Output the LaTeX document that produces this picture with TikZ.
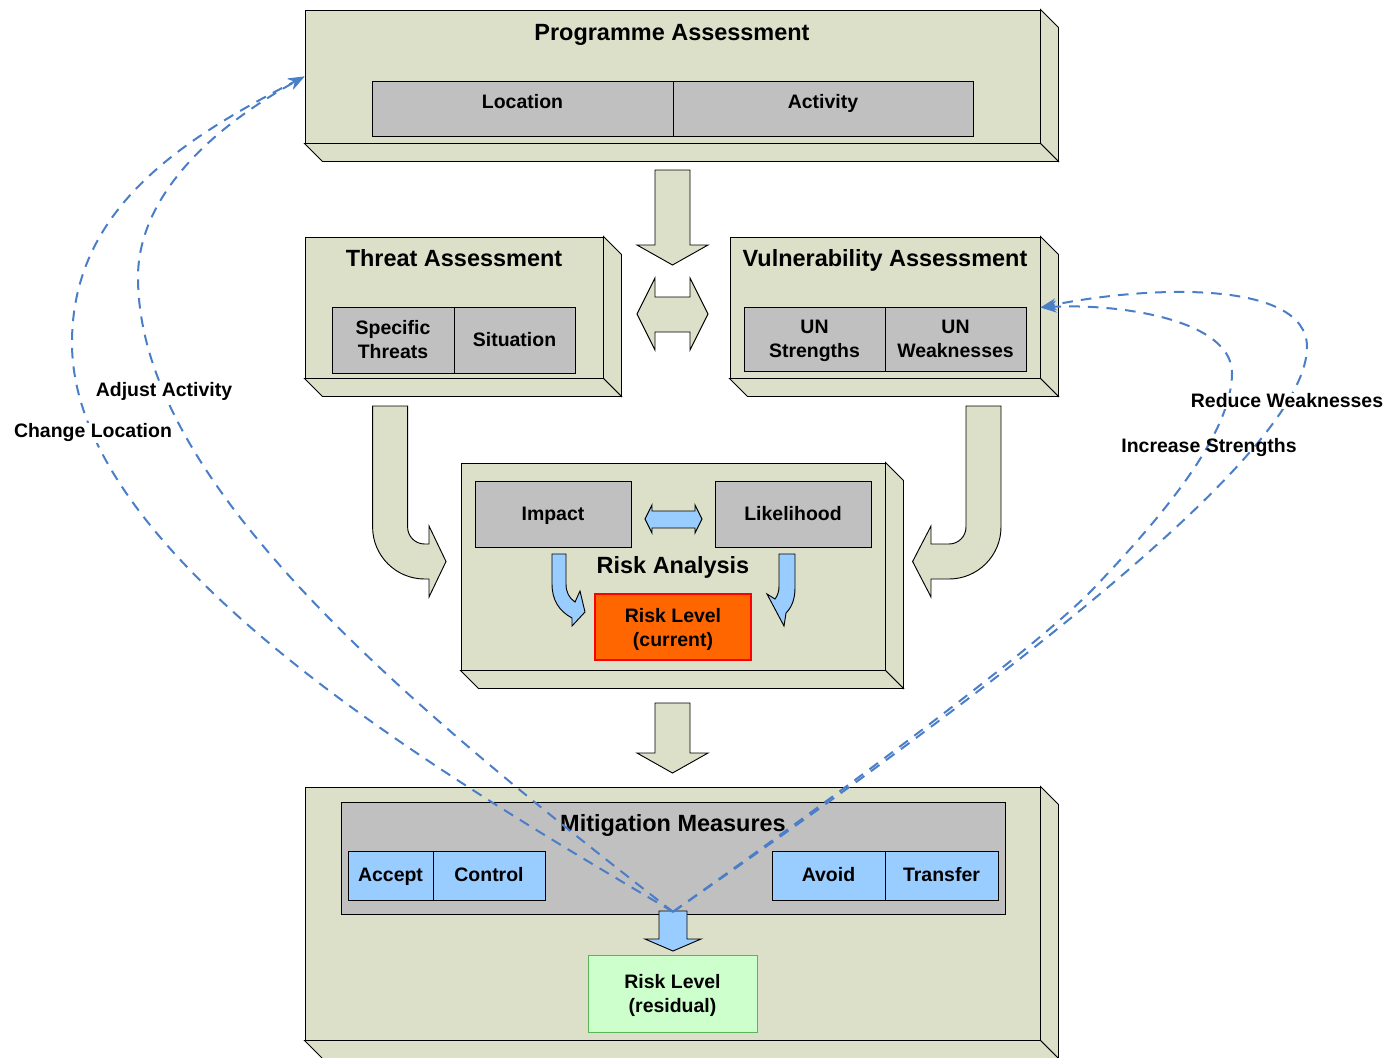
\documentclass[tikz,border=0pt]{standalone}
\usepackage{fontspec}
\setmainfont{Liberation Sans}
\usetikzlibrary{fit,arrows.meta}

\definecolor{khaki}{RGB}{221,224,201}
\definecolor{cellgray}{RGB}{192,192,192}
\definecolor{skyblue}{RGB}{153,204,255}
\definecolor{riskorange}{RGB}{255,102,0}
\definecolor{mint}{RGB}{204,255,204}
\definecolor{mintedge}{RGB}{90,180,90}
\definecolor{dashblue}{RGB}{74,126,199}

% side and bottom faces of a raised box
\newcommand{\slabfaces}[1]{%
  \draw[slabside] (#1.north east) -- ++(13.5pt,-13.5pt)
    -- ([shift={(13.5pt,-13.5pt)}]#1.south east) -- (#1.south east) -- cycle;
  \draw[slabside] (#1.south west) -- (#1.south east) -- ++(13.5pt,-13.5pt)
    -- ([shift={(13.5pt,-13.5pt)}]#1.south west) -- cycle;
}

\begin{document}
\begin{tikzpicture}[
            x=0.75pt, y=-0.75pt,
            >={Stealth[length=12pt,width=9pt]},
            slab/.style={draw, fill=khaki, line width=0.7pt, inner sep=0pt},
            slabside/.style={draw, fill=khaki, line width=0.7pt},
            heading/.style={font=\fontsize{17.6}{21}\selectfont\bfseries},
            cell/.style={draw, fill=cellgray, line width=0.7pt, inner sep=0pt},
            celltext/.style={align=center, inner sep=0pt, font=\fontsize{14.6}{18}\selectfont\bfseries},
            twolines/.style={celltext, yshift=-1.5pt},
            oneline/.style={celltext, text height=10.5pt, text depth=1.5pt},
            measure/.style={cell, fill=skyblue},
            bigarrow/.style={draw, fill=khaki, line width=0.7pt},
            bluearrow/.style={draw, fill=skyblue, line width=0.7pt},
            feedback/.style={draw=dashblue, line width=1.5pt, dash pattern=on 8pt off 6pt, ->},
            tag/.style={font=\fontsize{14.6}{18}\selectfont\bfseries, fill=white, inner sep=1pt}
        ]
        \useasboundingbox (0,0) rectangle (1388,1057);

        % Boxes
        \node[slab, fit={(305,10)(1040,143)}] (prog) {};
        \slabfaces{prog}
        \node[slab, fit={(305,237)(603,378)}] (threat) {};
        \slabfaces{threat}
        \node[slab, fit={(730,237)(1040,378)}] (vuln) {};
        \slabfaces{vuln}
        \node[slab, fit={(461,463)(885,670)}] (risk) {};
        \slabfaces{risk}
        \node[slab, fit={(305,787)(1040,1040)}] (mitig) {};
        \slabfaces{mitig}

        % Headings
        \node[heading] (progtitle) at (672,34.5) {Programme Assessment};
        \node[heading] (threattitle) at (454,258) {Threat Assessment};
        \node[heading] (vulntitle) at (885,260) {Vulnerability Assessment};

        % Cells
        \node[cell, fit={(372,81)(673,136)}, label={[oneline, yshift=4.2pt]center:Location}] (loc) {};
        \node[cell, fit={(673,81)(973,136)}, label={[oneline, yshift=4.2pt]center:Activity}] (act) {};
        \node[cell, fit={(332,307)(454,373)}, label={[celltext]center:Specific\\Threats}] (spec) {};
        \node[cell, fit={(454,307)(575,373)}, label={[oneline]center:Situation}] (sit) {};
        \node[cell, fit={(744,307)(885,371)}, label={[twolines]center:UN\\Strengths}] (str) {};
        \node[cell, fit={(885,307)(1026,371)}, label={[celltext]center:UN\\Weaknesses}] (weak) {};
        \node[cell, fit={(475,481)(631,547)}, label={[oneline]center:Impact}] (imp) {};
        \node[cell, fit={(715,481)(871,547)}, label={[oneline]center:Likelihood}] (like) {};
        \node[heading] (risktitle) at (673,567) {Risk Analysis};
        \node[cell, fill=riskorange, draw=red, line width=1.3pt, fit={(595,594)(751,660)},
            label={[twolines]center:Risk Level\\(current)}] (cur) {};

        \node[cell, fit={(341,802)(1005,914)}] (mm) {};
        \node[heading] (mmtitle) at (673,825) {Mitigation Measures};
        \node[measure, fit={(348,851)(433,900)}, label={[oneline]center:Accept}] (acc) {};
        \node[measure, fit={(433,851)(545,900)}, label={[oneline]center:Control}] (ctrl) {};
        \node[measure, fit={(772,851)(885,900)}, label={[oneline]center:Avoid}] (avoid) {};
        \node[measure, fit={(885,851)(998,900)}, label={[oneline]center:Transfer}] (trans) {};
        \node[cell, fill=mint, draw=mintedge, fit={(588,955)(757,1032)},
            label={[twolines]center:Risk Level\\(residual)}] (res) {};

        % Block arrows
        \foreach \top/\neck in {170/245, 703/753}
            \draw[bigarrow] (655,\top) -- (690,\top) -- (690,\neck) -- (708,\neck)
                -- (672.5,\neck+20) -- (637,\neck) -- (655,\neck) -- cycle;
        \draw[bigarrow] (637,314) -- (655,278) -- (655,297) -- (690,297) -- (690,278) -- (708,314)
            -- (690,350) -- (690,332) -- (655,332) -- (655,350) -- cycle;
        \draw[bigarrow] (372.6,406) -- (407.6,406) -- (407.6,527)
            .. controls (407.6,536.4) and (415.2,544) .. (424.6,544) -- (429,544) -- (429,526)
            -- (446,561.5) -- (429,597) -- (429,579) -- (424.6,579)
            .. controls (395.9,579) and (372.6,555.7) .. (372.6,527) -- cycle;
        \draw[bigarrow] (1001,406) -- (966,406) -- (966,527)
            .. controls (966,536.4) and (958.4,544) .. (949,544) -- (931,544) -- (931,526)
            -- (912.6,561.5) -- (931,597) -- (931,579) -- (949,579)
            .. controls (977.7,579) and (1001,555.7) .. (1001,527) -- cycle;

        \draw[bluearrow] (645,519) -- (652,505) -- (652,511) -- (695,511) -- (695,505) -- (702,519)
            -- (695,533) -- (695,528) -- (652,528) -- (652,533) -- cycle;
        \draw[bluearrow] (552,554) -- (566,554) -- (566,584)
            .. controls (566,592) and (569,598) .. (575,602) -- (580,591) -- (585,612) -- (572,626)
            -- (572,618) .. controls (559,611) and (552,600) .. (552,584) -- cycle;
        \draw[bluearrow] (795,554) -- (779,554) -- (779,586)
            .. controls (779,591) and (778,595) .. (775,599) -- (767,594) -- (784,626)
            -- (786,613) .. controls (791,608) and (795,600) .. (795,588) -- cycle;
        \draw[bluearrow] (659,911) -- (687,911) -- (687,939) -- (701,939) -- (673,951)
            -- (645,939) -- (659,939) -- cycle;

        % Feedback loops
        \coordinate (fb) at ([yshift=2pt]mm.south);
        \draw[feedback] (fb) .. controls (450,780) and (72,560) .. (72,343)
            .. controls (72,210) and (180,140) .. (prog.west);
        \draw[feedback] (fb) .. controls (400,700) and (138,480) .. (138,277)
            .. controls (138,210) and (190,140) .. (prog.west);
        \draw[feedback] (fb) .. controls (1065,640) and (1307,440) .. (1307,347)
            .. controls (1307,280) and (1150,285) .. (vuln.east);
        \draw[feedback] (fb) .. controls (830,800) and (1035,650) .. (1095,587)
            .. controls (1145,534) and (1232,440) .. (1232,373)
            .. controls (1232,320) and (1120,303) .. (vuln.east);

        % Labels
        \node[tag] (adjust) at (164,391) {Adjust Activity};
        \node[tag] (change) at (93,433) {Change Location};
        \node[tag] (reduce) at (1287,401) {Reduce Weaknesses};
        \node[tag, fill=none] (increase) at (1209,448) {Increase Strengths};

        \end{tikzpicture}
\end{document}
